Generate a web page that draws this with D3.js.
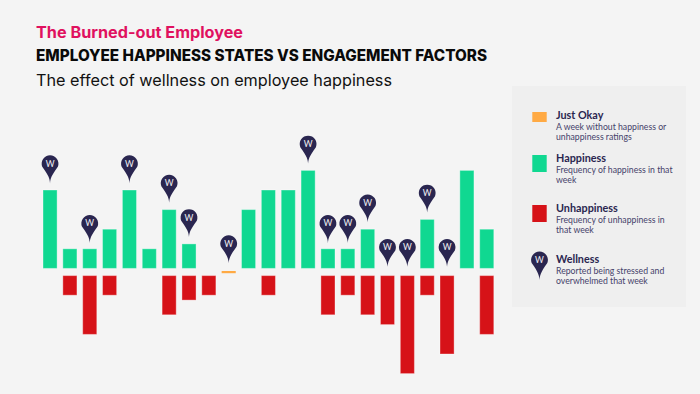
<!DOCTYPE html>
<html><head><meta charset="utf-8">
<script src="https://cdn.jsdelivr.net/npm/d3@7"></script>
<style>html,body{margin:0;padding:0;background:#f4f4f4}svg{display:block}</style></head>
<body><svg id="c" width="700" height="394"></svg>
<script>
const weeks = d3.range(1, 24);
const happiness   = [4,1,1,2,4,1,3,1.25,0,0,3,4,4,5,1,1,2,0,0,2.5,0,5,2];
const unhappiness = [0,1,3,1,0,0,2,1.25,1,0,0,1,0,0,2,1,2,2.5,5,1,4,0,3];
const justOkay    = [10];
const wellnessWeeks = [1,3,5,7,8,10,14,15,16,17,18,19,20,21];
const pinLevels = {1:4.35,3:1.3,5:4.35,7:3.35,8:1.6,10:0.27,14:5.35,15:1.3,16:1.3,17:2.35,18:0.08,19:0.08,20:2.85,21:0.08};
const titles = ["The Burned-out Employee","EMPLOYEE HAPPINESS STATES VS ENGAGEMENT FACTORS","The effect of wellness on employee happiness"];
const legendNames = ["Just Okay","Happiness","Unhappiness","Wellness"];
const legendNotes = [["A week without happiness or","unhappiness ratings"],["Frequency of happiness in that","week"],["Frequency of unhappiness in","that week"],["Reported being stressed and","overwhelmed that week"]];

const C = {green:"#10d891",red:"#d61218",orange:"#ffaa44",navy:"#2a2650",pink:"#e0115f",bg:"#f4f4f4",panel:"#efefef",note:"#45426a"};
const svg = d3.select("#c");
svg.append("rect").attr("width",700).attr("height",394).attr("fill",C.bg);

const x = d3.scaleBand().domain(weeks).range([43,493.8]).paddingInner(0.29);
const yUp = d3.scaleLinear().domain([0,5]).range([268.4,170.4]);
const yDown = d3.scaleLinear().domain([0,5]).range([275.6,373.6]);

const tStyle=[{y:38,s:15.5,w:700,f:C.pink,len:207},{y:61,s:15.5,w:800,f:"#0a0a0a",len:451},{y:86,s:16.5,w:400,f:"#111",len:356}];
svg.selectAll("text.t").data(titles).join("text").attr("class","t")
 .attr("x",36).attr("y",(d,i)=>tStyle[i].y).text(d=>d)
 .attr("font-family","Inter, 'Open Sans', sans-serif")
 .attr("font-size",(d,i)=>tStyle[i].s).attr("font-weight",(d,i)=>tStyle[i].w)
 .attr("fill",(d,i)=>tStyle[i].f).attr("textLength",(d,i)=>tStyle[i].len).attr("lengthAdjust","spacingAndGlyphs");

const halo = s=>s.attr("stroke","#fff").attr("stroke-opacity",0.35).attr("stroke-width",1);
svg.append("g").selectAll("rect").data(weeks.filter((w,i)=>happiness[i]>0)).join("rect")
 .attr("x",d=>x(d)).attr("width",x.bandwidth())
 .attr("y",d=>yUp(happiness[d-1])).attr("height",d=>yUp(0)-yUp(happiness[d-1]))
 .attr("fill",C.green).call(halo);
svg.append("g").selectAll("rect").data(weeks.filter((w,i)=>unhappiness[i]>0)).join("rect")
 .attr("x",d=>x(d)).attr("width",x.bandwidth())
 .attr("y",yDown(0)).attr("height",d=>yDown(unhappiness[d-1])-yDown(0))
 .attr("fill",C.red).call(halo);
svg.append("g").selectAll("rect").data(justOkay).join("rect")
 .attr("x",d=>x(d)).attr("width",x.bandwidth()).attr("y",271).attr("height",2.2).attr("fill",C.orange);

function pinPath(r,h){
  const p=d3.path(), cy=-h, a=Math.PI*0.12;
  p.moveTo(0,0);
  p.bezierCurveTo(-0.4,-h*0.22,-0.9,-h*0.36,-r*Math.cos(a),cy+r*Math.sin(a));
  p.arc(0,cy,r,Math.PI-a,a,false);
  p.bezierCurveTo(0.9,-h*0.36,0.4,-h*0.22,0,0);
  p.closePath();
  return p.toString();
}
function pin(g,r,h,fs){
  g.append("path").attr("d",pinPath(r,h)).attr("fill",C.navy);
  g.append("text").attr("y",-h+fs*0.36).attr("text-anchor","middle").attr("font-family","Lato, sans-serif")
   .attr("font-size",fs).attr("font-weight",400).attr("fill","#f2f2f6").text("W");
}
svg.append("g").selectAll("g").data(wellnessWeeks).join("g")
 .attr("transform",d=>`translate(${x(d)+x.bandwidth()/2},${yUp(pinLevels[d])})`)
 .each(function(){pin(d3.select(this),8.4,19.5,8.5);});

svg.append("rect").attr("x",512).attr("y",86).attr("width",174).attr("height",221).attr("fill",C.panel);
const nameY=[119,162,212,263];
const swatch=[[112,10,C.orange],[155,17,C.green],[205,17,C.red]];
svg.append("g").selectAll("rect").data(swatch).join("rect")
 .attr("x",532.3).attr("width",14.4).attr("y",d=>d[0]).attr("height",d=>d[1]).attr("fill",d=>d[2]);
pin(svg.append("g").attr("transform","translate(539.5,280)"),8.4,20,8.5);
const lg=svg.append("g").attr("font-family","Lato, sans-serif");
lg.selectAll("text.n").data(legendNames).join("text").attr("class","n")
 .attr("x",556).attr("y",(d,i)=>nameY[i]).attr("font-size",10.8).attr("font-weight",700).attr("fill",C.navy).text(d=>d);
legendNotes.forEach((ls,i)=>{
  lg.selectAll("text.d"+i).data(ls).join("text").attr("class","d"+i)
   .attr("x",556).attr("y",(d,j)=>nameY[i]+11+j*10).attr("font-size",8.7).attr("fill",C.note).text(d=>d);
});
</script></body></html>
